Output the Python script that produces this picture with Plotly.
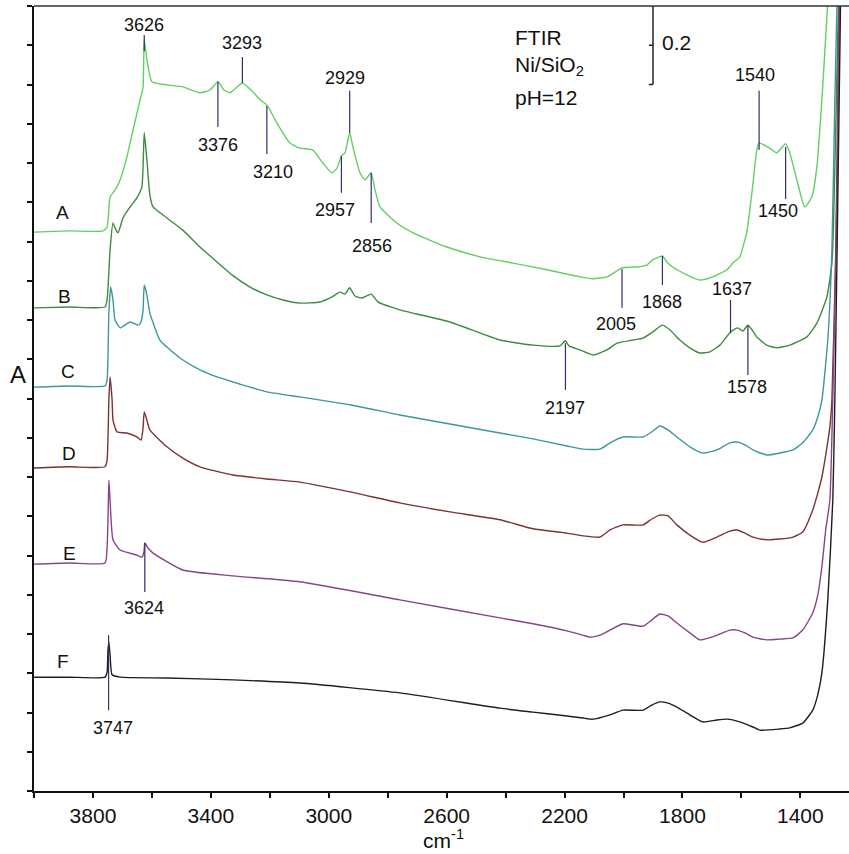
import plotly.graph_objects as go

# ---------------- data (wavenumber cm-1, absorbance) ----------------
wn_A = [4000, 3878, 3766, 3752, 3742, 3725, 3708, 3685, 3664, 3640, 3630, 3626, 3617, 3600, 3549, 3495, 3437, 3403, 3376, 3356,
        3335, 3315, 3293, 3257, 3233, 3210, 3176, 3132, 3098, 3054, 3020, 2989, 2972, 2957, 2945, 2929, 2918, 2894, 2877, 2856,
        2843, 2826, 2769, 2714, 2599, 2487, 2375, 2260, 2148, 2104, 2056, 2029, 2005, 1955, 1921, 1901, 1868, 1853, 1833, 1785,
        1741, 1697, 1649, 1629, 1605, 1595, 1582, 1562, 1548, 1540, 1504, 1480, 1450, 1436, 1412, 1385, 1361, 1344, 1327, 1310, 1300]
abs_A = [1.424, 1.427, 1.427, 1.437, 1.513, 1.531, 1.557, 1.615, 1.684, 1.761, 1.794, 1.914, 1.863, 1.807, 1.799, 1.794, 1.779, 1.786, 1.807, 1.786,
         1.779, 1.791, 1.804, 1.781, 1.761, 1.748, 1.702, 1.651, 1.638, 1.633, 1.600, 1.575, 1.587, 1.618, 1.626, 1.677, 1.641, 1.575, 1.557, 1.575,
         1.531, 1.488, 1.447, 1.422, 1.386, 1.361, 1.345, 1.328, 1.310, 1.305, 1.310, 1.322, 1.333, 1.335, 1.340, 1.353, 1.363, 1.348, 1.335, 1.315,
         1.302, 1.310, 1.328, 1.345, 1.361, 1.386, 1.422, 1.539, 1.633, 1.651, 1.638, 1.626, 1.649, 1.626, 1.557, 1.488, 1.514, 1.590, 1.761, 1.972, 2.10]

wn_B = [4000, 3878, 3759, 3752, 3742, 3732, 3722, 3715, 3698, 3674, 3651, 3634, 3626, 3617, 3607, 3596, 3549, 3495, 3437, 3379,
        3325, 3267, 3210, 3155, 3098, 3030, 2989, 2962, 2945, 2929, 2911, 2887, 2856, 2833, 2759, 2589, 2419, 2307, 2216, 2197,
        2185, 2148, 2104, 2056, 2022, 1968, 1934, 1900, 1868, 1843, 1809, 1775, 1741, 1707, 1673, 1640, 1627, 1612, 1595, 1578,
        1564, 1548, 1514, 1480, 1436, 1378, 1344, 1310, 1293, 1288, 1278, 1268]
abs_B = [1.231, 1.233, 1.233, 1.251, 1.378, 1.447, 1.429, 1.422, 1.460, 1.488, 1.511, 1.539, 1.677, 1.608, 1.519, 1.488, 1.460, 1.429, 1.386, 1.348,
         1.313, 1.284, 1.264, 1.251, 1.243, 1.246, 1.259, 1.271, 1.266, 1.282, 1.261, 1.256, 1.266, 1.246, 1.226, 1.195, 1.149, 1.136, 1.134, 1.147,
         1.134, 1.124, 1.111, 1.124, 1.141, 1.149, 1.154, 1.170, 1.187, 1.175, 1.149, 1.129, 1.116, 1.119, 1.136, 1.167, 1.175, 1.180, 1.172, 1.187,
         1.175, 1.157, 1.136, 1.129, 1.136, 1.157, 1.192, 1.259, 1.345, 1.429, 1.761, 2.10]

wn_C = [4000, 3878, 3759, 3752, 3746, 3740, 3732, 3725, 3708, 3674, 3647, 3637, 3630, 3626, 3617, 3607, 3573, 3549, 3495, 3437,
        3379, 3325, 3267, 3210, 3098, 2928, 2759, 2589, 2419, 2307, 2192, 2138, 2080, 2046, 2002, 1934, 1904, 1877, 1849, 1819,
        1775, 1731, 1683, 1639, 1615, 1588, 1561, 1514, 1470, 1425, 1392, 1358, 1341, 1327, 1307, 1293, 1283, 1273]
abs_C = [1.029, 1.032, 1.032, 1.047, 1.218, 1.284, 1.251, 1.200, 1.180, 1.195, 1.187, 1.195, 1.226, 1.289, 1.264, 1.218, 1.149, 1.131, 1.098, 1.073,
         1.055, 1.042, 1.029, 1.017, 1.004, 0.984, 0.958, 0.935, 0.912, 0.897, 0.879, 0.871, 0.871, 0.887, 0.902, 0.902, 0.915, 0.930, 0.920, 0.902,
         0.877, 0.861, 0.869, 0.887, 0.889, 0.882, 0.869, 0.856, 0.861, 0.869, 0.887, 0.920, 0.953, 0.996, 1.149, 1.378, 1.761, 2.10]

wn_D = [4000, 3878, 3759, 3752, 3746, 3742, 3735, 3732, 3718, 3685, 3651, 3637, 3630, 3626, 3617, 3607, 3549, 3495, 3437, 3325,
        3210, 3098, 2928, 2759, 2589, 2419, 2307, 2192, 2138, 2080, 2046, 2002, 1934, 1904, 1877, 1849, 1819, 1775, 1731, 1683,
        1639, 1615, 1588, 1561, 1514, 1470, 1425, 1392, 1358, 1341, 1327, 1314, 1300, 1293, 1280, 1273, 1266]
abs_D = [0.823, 0.826, 0.826, 0.843, 0.996, 1.055, 0.996, 0.945, 0.915, 0.912, 0.902, 0.894, 0.925, 0.966, 0.945, 0.920, 0.877, 0.848, 0.826, 0.805,
         0.795, 0.787, 0.762, 0.734, 0.711, 0.691, 0.668, 0.657, 0.650, 0.647, 0.665, 0.678, 0.678, 0.693, 0.703, 0.701, 0.678, 0.652, 0.634, 0.647,
         0.662, 0.665, 0.657, 0.647, 0.640, 0.642, 0.647, 0.660, 0.716, 0.759, 0.800, 0.856, 0.927, 0.996, 1.378, 1.761, 2.10]

wn_E = [4000, 3878, 3759, 3752, 3749, 3746, 3742, 3732, 3708, 3651, 3634, 3627, 3624, 3613, 3596, 3495, 3325, 3098, 2759, 2419,
        2307, 2192, 2138, 2114, 2080, 2046, 2002, 1934, 1904, 1877, 1849, 1819, 1775, 1741, 1683, 1639, 1615, 1588, 1561, 1514,
        1470, 1425, 1392, 1358, 1341, 1327, 1314, 1300, 1290, 1276, 1266]
abs_E = [0.578, 0.581, 0.581, 0.622, 0.691, 0.792, 0.741, 0.640, 0.614, 0.601, 0.596, 0.609, 0.632, 0.619, 0.606, 0.563, 0.548, 0.533, 0.487, 0.441,
         0.426, 0.408, 0.397, 0.392, 0.397, 0.410, 0.426, 0.420, 0.436, 0.451, 0.446, 0.428, 0.403, 0.385, 0.397, 0.410, 0.410, 0.403, 0.392, 0.385,
         0.387, 0.390, 0.410, 0.454, 0.499, 0.571, 0.665, 0.741, 0.996, 1.506, 2.10]

wn_F = [4000, 3878, 3759, 3752, 3749, 3746, 3742, 3735, 3708, 3549, 3325, 3098, 2759, 2419, 2307, 2192, 2138, 2104, 2046, 2002,
        1934, 1904, 1877, 1849, 1819, 1775, 1731, 1683, 1649, 1605, 1561, 1537, 1470, 1436, 1392, 1358, 1341, 1327, 1307, 1290,
        1283, 1273, 1262]
abs_F = [0.290, 0.290, 0.290, 0.303, 0.359, 0.380, 0.347, 0.296, 0.290, 0.288, 0.283, 0.275, 0.250, 0.211, 0.201, 0.191, 0.186, 0.183, 0.194, 0.206,
         0.206, 0.219, 0.227, 0.224, 0.214, 0.194, 0.176, 0.181, 0.183, 0.176, 0.163, 0.155, 0.158, 0.161, 0.173, 0.206, 0.245, 0.301, 0.487, 0.741,
         0.996, 1.506, 2.10]

series_names = ["A", "B", "C", "D", "E", "F"]

# peak labels: wavenumber, text
peak_wn = [3626, 3293, 3376, 3210, 2929, 2957, 2856, 1540, 1450, 2005, 1868, 1637, 1578, 2197, 3624, 3747]
peak_text = ["3626", "3293", "3376", "3210", "2929", "2957", "2856", "1540", "1450", "2005", "1868", "1637", "1578", "2197", "3624", "3747"]

# x-axis ticks
tick_vals = [4000, 3800, 3600, 3400, 3200, 3000, 2800, 2600, 2400, 2200, 2000, 1800, 1600, 1400]
tick_text = ["", "3800", "", "3400", "", "3000", "", "2600", "", "2200", "", "1800", "", "1400"]

scale_bar_value = 0.2

# ---------------- styles / positions ----------------
colors = ["#62cf62", "#3f8a3f", "#3d979b", "#7a3333", "#884488", "#1e1e1e"]
xs = [wn_A, wn_B, wn_C, wn_D, wn_E, wn_F]
ys = [abs_A, abs_B, abs_C, abs_D, abs_E, abs_F]
peak_line = [(1.926, 1.885), (1.870, 1.804), (1.807, 1.692), (1.745, 1.623), (1.784, 1.677), (1.618, 1.524),
             (1.575, 1.447), (1.784, 1.633), (1.641, 1.508), (1.330, 1.231), (1.363, 1.289), (1.251, 1.167),
             (1.187, 1.060), (1.141, 1.022), (0.632, 0.507), (0.397, 0.206)]
peak_label = [(3626, 1.952), (3293, 1.906), (3376, 1.646), (3189, 1.577), (2945, 1.817), (2979, 1.480),
              (2853, 1.389), (1554, 1.824), (1476, 1.478), (2026, 1.190), (1870, 1.246), (1632, 1.279),
              (1582, 1.029), (2197, 0.976), (3626, 0.466), (3732, 0.161)]
name_pos = [(3902, 1.473), (3898, 1.261), (3885, 1.070), (3881, 0.859), (3881, 0.606), (3902, 0.331)]

FONT = "Liberation Sans, Arial, sans-serif"

fig = go.Figure()
for n, x, y, c in zip(series_names, xs, ys, colors):
    fig.add_trace(go.Scatter(x=x, y=y, mode="lines", name=n, line_shape="spline",
                             line=dict(color=c, width=1.4, smoothing=0.5), showlegend=False, hoverinfo="skip"))

for (y0, y1), wn in zip(peak_line, peak_wn):
    fig.add_shape(type="line", x0=wn, x1=wn, y0=y0, y1=y1, xref="x", yref="y",
                  line=dict(color="#2e2e70", width=1.2))
for (lx, ly), t in zip(peak_label, peak_text):
    fig.add_annotation(x=lx, y=ly, text=t, showarrow=False, xref="x", yref="y",
                       xanchor="center", yanchor="middle",
                       font=dict(family=FONT, size=18, color="#111111"))

for (lx, ly), n in zip(name_pos, series_names):
    fig.add_annotation(x=lx, y=ly, text=n, showarrow=False, xref="x", yref="y",
                       xanchor="center", yanchor="middle",
                       font=dict(family=FONT, size=19, color="#111111"))

for t, yy in zip(["FTIR", "Ni/SiO<sub>2</sub>", "pH=12"], [1.921, 1.847, 1.766]):
    fig.add_annotation(x=2375, y=yy, text=t, showarrow=False, xref="x", yref="y",
                       xanchor="left", yanchor="middle",
                       font=dict(family=FONT, size=21, color="#111111"))

# scale bar
sb_x, sb_top = 1900, 2.0
fig.add_shape(type="line", x0=sb_x, x1=sb_x, y0=sb_top, y1=sb_top - scale_bar_value,
              line=dict(color="#222222", width=1.5))
fig.add_shape(type="line", x0=sb_x, x1=sb_x + 14, y0=sb_top - scale_bar_value, y1=sb_top - scale_bar_value,
              line=dict(color="#222222", width=1.5))
fig.add_shape(type="line", x0=sb_x, x1=sb_x + 14, y0=sb_top - scale_bar_value / 2, y1=sb_top - scale_bar_value / 2,
              line=dict(color="#222222", width=1.5))
fig.add_annotation(x=1876, y=sb_top - scale_bar_value / 2 + 0.007, text=str(scale_bar_value), showarrow=False,
                   xanchor="left", yanchor="middle", font=dict(family=FONT, size=21, color="#111111"))

# top frame line
fig.add_shape(type="line", xref="paper", yref="paper", x0=0, x1=1, y0=1, y1=1,
              line=dict(color="#333333", width=1.5))

# axis titles
fig.add_annotation(xref="paper", yref="paper", x=-0.0196, y=0.53, text="A", showarrow=False,
                   xanchor="center", yanchor="middle", font=dict(family=FONT, size=24, color="#111111"))
fig.add_annotation(xref="paper", yref="paper", x=0.503, y=-0.0785, text="cm<sup>-1</sup>", showarrow=False,
                   xanchor="center", yanchor="bottom", borderpad=0,
                   font=dict(family=FONT, size=21, color="#111111"))

fig.update_layout(
    width=849, height=854,
    margin=dict(l=34, r=0, t=6, b=63),
    plot_bgcolor="white", paper_bgcolor="white",
    xaxis=dict(range=[4000, 1235], autorange=False, tickvals=tick_vals, ticktext=tick_text,
               ticks="outside", ticklen=5, tickwidth=1.5, tickcolor="#111111",
               showline=True, linecolor="#111111", linewidth=2, showgrid=False, zeroline=False,
               tickfont=dict(family=FONT, size=21, color="#111111")),
    yaxis=dict(range=[0, 2.0], autorange=False, dtick=0.1, tick0=0, ticks="outside", ticklen=5,
               tickwidth=1.5, tickcolor="#111111", showticklabels=False,
               showline=True, linecolor="#111111", linewidth=2, showgrid=False, zeroline=False),
)

fig.write_html("out.html")
